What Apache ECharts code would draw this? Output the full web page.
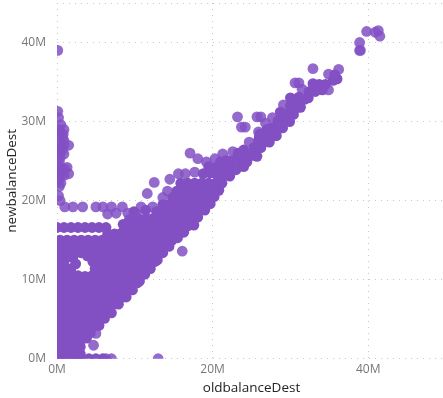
<!DOCTYPE html>
<html><head><meta charset="utf-8">
<style>html,body{margin:0;padding:0;background:#fff}#c{width:443px;height:398px}</style>
<script src="https://cdn.jsdelivr.net/npm/echarts@6/dist/echarts.min.js"></script>
</head><body><div id="c"></div>
<script>
const xTickValues = [0, 20, 40];
const yTickValues = [0, 10, 20, 30, 40];
const xTitle = "oldbalanceDest";
const yTitle = "newbalanceDest";
const lowerMass = [
[0.2,0],[1.2,0],[2.2,0],[3,0],[4.1,0],[5,0],[5.9,0],
[0.3,0.6],[1.2,0.6],[2.1,0.6],[3,0.6],[0,1.5],[0.9,1.5],[1.8,1.5],[2.7,1.5],[3,1.5],
[0.4,2.4],[1.3,2.4],[2.2,2.4],[3.1,2.4],[3.8,2.6],
[0,3.3],[0.9,3.3],[1.8,3.3],[2.7,3.3],[3.6,3.3],[4.3,3.3],
[0.4,4.2],[1.3,4.2],[2.2,4.2],[3.1,4.2],[4,4.2],[4.9,4.2],[5.4,4.2],
[0,5.1],[0.9,5.1],[1.8,5.1],[2.7,5.1],[3.6,5.1],[4.5,5.1],[5.4,5.1],[6.1,5.1],
[0.4,6],[1.3,6],[2.2,6],[3.1,6],[4,6],[4.9,6],[5.8,6],[6.7,6],[7,5.8],
[0,6.9],[0.9,6.9],[1.8,6.9],[2.7,6.9],[3.6,6.9],[4.5,6.9],[5.4,6.9],[6.3,6.9],[7.2,6.9],[7.9,6.9],
[0.4,7.8],[1.3,7.8],[2.2,7.8],[3.1,7.8],[4,7.8],[4.9,7.8],[5.8,7.8],[6.7,7.8],[7.6,7.8],[8.5,7.8],[8.9,7.8],
[0,8.7],[0.9,8.7],[1.8,8.7],[2.7,8.7],[3.6,8.7],[4.5,8.7],[5.4,8.7],[6.3,8.7],[7.2,8.7],[8.1,8.7],[9,8.7],[9.7,8.7],
[0.4,9.6],[1.3,9.6],[2.2,9.6],[3.1,9.6],[4,9.6],[4.9,9.6],[5.8,9.6],[6.7,9.6],[7.6,9.6],[8.5,9.6],[9.4,9.6],[10.3,9.6],[10.6,9.8],
[0,10.5],[0.9,10.5],[1.8,10.5],[2.7,10.5],[3.6,10.4],[4.5,10.5],[5.4,10.5],[6.3,10.5],[7.2,10.5],[8.1,10.5],[9,10.5],[9.9,10.5],[10.8,10.5],[11.3,10.7],
[0.4,11.4],[1.2,11.4],[1.8,11.4],[4.9,11.4],[5.8,11.4],[6.7,11.4],[7.6,11.4],[8.5,11.4],[9.4,11.4],[10.3,11.4],[11.2,11.4],[12,11.4],
[0,12.3],[0.9,12.3],[2.4,12],[2,12.8],[4.6,12.3],[5.4,12.3],[6.3,12.3],[7.2,12.3],[8.1,12.3],[9,12.3],[9.9,12.3],[10.8,12.3],[11.7,12.3],[12.6,12.3],[12.9,12.5],
[0.4,13.2],[1.3,13.2],[2.2,13.2],[3.1,13.4],[3.9,13],[4.9,13.2],[5.8,13.2],[6.7,13.2],[7.6,13.2],[8.5,13.2],[9.4,13.2],[10.3,13.2],[11.2,13.2],[12.1,13.2],[13,13.2],[13.6,13.4],
[0,14.1],[0.9,14.1],[1.8,14.1],[2.7,14.1],[3.6,14.1],[4.5,14.1],[5.4,14.1],[6.3,14.1],[7.2,14.1],[8.1,14.1],[9,14.1],[9.9,14.1],[10.8,14.1],[11.7,14.1],[12.6,14.1],[13.5,14.1],[14.4,14.2],
[0.4,15],[1.3,15],[2.2,15],[3.1,15],[4,15],[4.9,15],[5.8,15],[6.7,15],[7.6,15],[8.5,15],[9.4,15],[10.3,15],[11.2,15],[12.1,15],[13,15],[13.9,15],[14.8,15],[15.5,15.3]
];
const upperMass = [
[0,16.6],[0.9,16.6],[1.8,16.6],[2.7,16.6],[3.6,16.6],[4.5,16.6],[5.4,16.6],[6.3,16.6],
[6.5,15.8],[7.4,15.8],[8.3,15.9],[9.2,15.9],[10.1,15.9],[11,15.9],[11.9,15.9],[12.8,15.9],[13.7,15.9],[14.6,15.9],[15.5,15.9],[16.3,16],
[8.5,17],[9.6,16.8],[10.5,16.8],[11.4,16.8],[12.3,16.8],[13.2,16.8],[14.1,16.8],[15,16.8],[15.9,16.8],[16.8,16.8],[17.6,16.9],
[9.3,17.6],[10.5,17.7],[11.4,17.7],[12.2,17.7],[13.1,17.7],[14,17.7],[14.9,17.7],[15.8,17.7],[16.7,17.7],[17.6,17.7],[18.1,17.9],
[9.9,18.6],[11.4,18.8],[12.8,18.6],[13.7,18.6],[14.6,18.6],[15.5,18.6],[16.4,18.6],[17.3,18.6],[18.2,18.6],[19,18.8],
[13.6,19.5],[14.5,19.5],[15.4,19.5],[16.3,19.5],[17.2,19.5],[18.1,19.5],[19,19.5],[19.7,19.6],
[14.9,20.4],[15.8,20.4],[16.7,20.4],[17.6,20.4],[18.5,20.4],[19.4,20.4],[20.2,20.5],
[15.4,21.2],[16.3,21.3],[17.2,21.3],[18.1,21.3],[19,21.3],[19.9,21.3],[20.8,21.3],
[15.9,22.2],[16.8,22.2],[17.7,22.2],[18.6,22.2],[19.5,22.2],[20.4,22.2],[21.2,22.2],
[19.7,23.5],[18.8,23.4],[20.6,23.2],[21.5,23.2],[22.2,23.1],
[19.5,24.3],[20.4,24.2],[21.3,24.2],[22.2,24.1],[23,23.9],[24,24.3],[21,24.9]
];
const band = [
[21.8,25.1],[22.7,25.1],[23.6,25],[24.4,24.9],
[23.3,26],[24.2,25.9],[25,25.7],[24,26.4],[25.3,26.7],[26.2,26.7],[25.7,25.6],
[25.9,27.6],[26.8,27.5],[27.3,27.4],[26.1,28.4],[27,28.3],[27.9,28.3],[28.2,28.2],[26,28],[27,29],
[27.6,29.2],[28.5,29.1],[29,29.2],[28.4,30.1],[29.3,30],[29.9,30],
[28.7,31.2],[29.6,31],[30.4,30.9],[30,32],[30.9,31.8],[31.3,31.8],
[30,33],[30.9,32.9],[31.8,32.8],[32.3,33],[31.1,33.1],[32.4,33.8],[33.2,33.8],
[32.9,34.8],[33.7,34.7],[34.5,34.7],[34.1,34],[35.5,35.2],[35.7,35.9],[36,35.4]
];
const leftColumn = [
[0.1,39],[0.1,31.3],[0.2,30.5],[0.5,29.6],[0.9,29],[0.2,29],[0.3,28.8],[0.4,28.3],[0.8,28.4],[0.7,28],[0.2,27.5],[0.9,27.6],[1.5,27],[0.9,27],[0.3,27],[0.3,26.6],[0.7,26.4],[0.4,26.1],[0.2,25.9],[0.9,25.9],[0.4,25.4],
[0.3,24.9],[0.2,24.4],[1.3,24.2],[1,24],[0.6,24],[0.5,23.8],[0.4,23.5],[1.5,23.4],[0.9,23.2],[0.4,22.9],[0.2,22.6],[0.5,22.2],[0.3,21.8],[0.2,20.6],[0.4,20]
];
const outliers = [
[6.3,0],[7,0],[13,0],[4.7,1.7],[5,3.2],[16.1,13.6],
[6.5,18.3],[7.6,18.4],[9.1,18.4],[10.2,18.3],
[10.8,19.2],[12.3,19.2],[1,19.2],[2.05,19.2],[3.3,19.2],[5,19.2],[5.9,19.2],[7,19.2],[8.4,19.2],
[11.6,20.9],[13.6,20.4],[14.2,21.2],[12.5,22.3],[14.5,22.7],[15.6,23.4],[16.5,23.4],[17.7,23.6],
[17.1,26],[18.1,25.3],[19.2,24.9],[20.3,25.3],[21.3,25.9],[22.6,26.2],[24.7,27.4],[26.8,29.8],[27.7,30.5],[29.1,32.1],[31.5,34.1],[34.9,34],[34.9,36],[36.2,36.6],
[39.8,41.4],[40.9,41.3],[41.3,41.5],[41.5,40.8],[38.9,40],[38.9,39],[39,39],
[32.9,36.7],[30.6,34.9],[31.1,34.9],[23.2,30.6],[25.7,30.6],[26.2,30.6],[23.7,29.3],[24.2,29.3],[25.9,28.7]
];
const solidPoints = [].concat(lowerMass, upperMass, band);
const softPoints = [].concat(leftColumn, outliers);
const font = '"Open Sans","Noto Sans",sans-serif';
const gridLine = {show:true, lineStyle:{color:'#c8c8c8', type:[1,5], width:1}};
const dot = (opacity) => (params, api) => {
  const p = api.coord([api.value(0), api.value(1)]);
  return {type:'circle', shape:{cx:p[0], cy:p[1], r:5.4}, style:{fill:'#8350C4', opacity}};
};
const chart = echarts.init(document.getElementById('c'), null, {renderer:'canvas'});
chart.setOption({
  animation:false,
  backgroundColor:'#fff',
  grid:{left:57, top:3, width:389, height:355.7, containLabel:false, outerBoundsMode:'none'},
  xAxis:{type:'value', min:0, max:50, interval:20,
    name:xTitle, nameLocation:'middle', nameGap:22, nameMoveOverlap:false,
    nameTextStyle:{fontFamily:font, fontSize:13.5, color:'#252423'},
    axisLine:{show:false}, axisTick:{show:false},
    axisLabel:{fontFamily:font, fontSize:12, color:'#777', margin:5,
      formatter:v=> xTickValues.includes(v) ? v+'M' : ''},
    splitLine:gridLine},
  yAxis:{type:'value', min:0, max:45, interval:10,
    name:yTitle, nameLocation:'middle', nameGap:38, nameMoveOverlap:false, nameRotate:90,
    nameTextStyle:{fontFamily:font, fontSize:13.5, color:'#252423'},
    axisLine:{show:false}, axisTick:{show:false},
    axisLabel:{fontFamily:font, fontSize:12, color:'#777', margin:11,
      formatter:v=> yTickValues.includes(v) ? v+'M' : ''},
    splitLine:gridLine},
  series:[
    {type:'custom', coordinateSystem:'cartesian2d', data:softPoints, clip:true, encode:{x:0,y:1}, renderItem:dot(0.85), z:2},
    {type:'custom', coordinateSystem:'cartesian2d', data:solidPoints, clip:true, encode:{x:0,y:1}, renderItem:dot(1), z:3}
  ]
});
</script></body></html>
